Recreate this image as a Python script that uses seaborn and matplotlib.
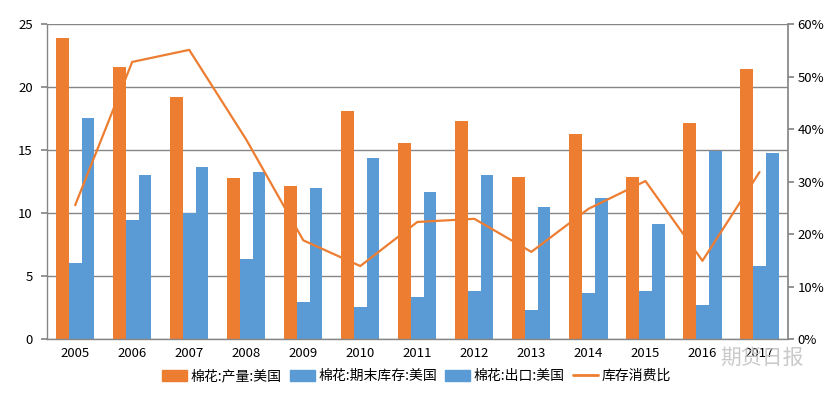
import numpy as np
import pandas as pd
import seaborn as sns
import matplotlib
matplotlib.use("Agg")
import matplotlib.pyplot as plt
from matplotlib.lines import Line2D
from matplotlib.patches import Patch

# values
years = ["2005", "2006", "2007", "2008", "2009", "2010", "2011",
         "2012", "2013", "2014", "2015", "2016", "2017"]
production = [23.9, 21.6, 19.2, 12.8, 12.15, 18.1, 15.6,
              17.3, 12.9, 16.3, 12.9, 17.15, 21.45]
ending_stock = [6.0, 9.45, 10.0, 6.35, 2.95, 2.55, 3.35,
                3.8, 2.3, 3.65, 3.8, 2.7, 5.8]
exports = [17.55, 13.0, 13.65, 13.25, 12.0, 14.4, 11.7,
           13.0, 10.5, 11.2, 9.15, 14.95, 14.75]
stock_use_ratio = [25.5, 52.8, 55.1, 38.0, 18.8, 13.9, 22.3,
                   22.9, 16.6, 24.8, 30.1, 14.9, 31.8]

names = ["棉花:产量:美国", "棉花:期末库存:美国", "棉花:出口:美国"]
line_name = "库存消费比"

orange = "#ED7D31"
blue = "#5B9BD5"
grid_c = "#868686"

sns.set_theme(style="white")
plt.rcParams['font.family'] = ['Noto Sans CJK SC', 'DejaVu Sans']
plt.rcParams['text.color'] = 'black'
plt.rcParams['xtick.color'] = 'black'
plt.rcParams['ytick.color'] = 'black'

df = pd.DataFrame({"year": years * 3,
                   "value": production + ending_stock + exports,
                   "series": [names[0]] * 13 + [names[1]] * 13 + [names[2]] * 13})

fig = plt.figure(figsize=(8.33, 3.96), dpi=100)
ax = fig.add_axes([0.056, 0.144, 0.89, 0.795])

sns.barplot(data=df, x="year", y="value", hue="series", ax=ax,
            palette=[orange, blue, blue], width=0.67, saturation=1,
            legend=False, errorbar=None, linewidth=0)

ax.set_ylim(0, 25)
ax.set_yticks([0, 5, 10, 15, 20, 25])
ax.set_xlim(-0.5, 12.5)
ax.set_xlabel("")
ax.set_ylabel("")
ax.yaxis.grid(True, color=grid_c, linewidth=1)
ax.set_axisbelow(True)
for s in ["top", "right"]:
    ax.spines[s].set_visible(False)
for s in ["left", "bottom"]:
    ax.spines[s].set_color(grid_c)
    ax.spines[s].set_linewidth(1)
ax.tick_params(axis="y", which="major", length=4, color=grid_c, labelcolor="black",
               labelsize=9.5, pad=6)
ax.tick_params(axis="x", which="major", length=0, labelcolor="black", labelsize=9.5, pad=6)
ax.set_xticks(np.arange(-0.5, 13, 1), minor=True)
ax.tick_params(axis="x", which="minor", length=4, color=grid_c)

ax2 = ax.twinx()
sns.lineplot(x=np.arange(len(years)), y=stock_use_ratio, ax=ax2,
             color=orange, linewidth=1.6)
ax2.set_ylim(0, 60)
ax2.set_yticks(range(0, 61, 10))
ax2.set_yticklabels([f"{v}%" for v in range(0, 61, 10)])
ax2.set_xlim(-0.5, 12.5)
ax2.grid(False)
for s in ["top", "left", "bottom"]:
    ax2.spines[s].set_visible(False)
ax2.spines["right"].set_color(grid_c)
ax2.tick_params(axis="y", length=4, color=grid_c, labelcolor="black", labelsize=9.5, pad=3)

handles = [Patch(color=orange), Patch(color=blue), Patch(color=blue),
           Line2D([], [], color=orange, linewidth=2)]
fig.legend(handles, names + [line_name], loc="center", ncol=4,
           bbox_to_anchor=(0.5, 0.05), frameon=False, fontsize=10,
           handlelength=1.8, handleheight=0.9, columnspacing=0.6, handletextpad=0.25)

# faint watermark, overlapping the last tick labels as in the source image
fig.text(0.965, 0.096, "期货日报", fontsize=15, color="#C4C4C4", ha="right", va="center",
         alpha=0.9)

fig.savefig("out.png", dpi=100)
